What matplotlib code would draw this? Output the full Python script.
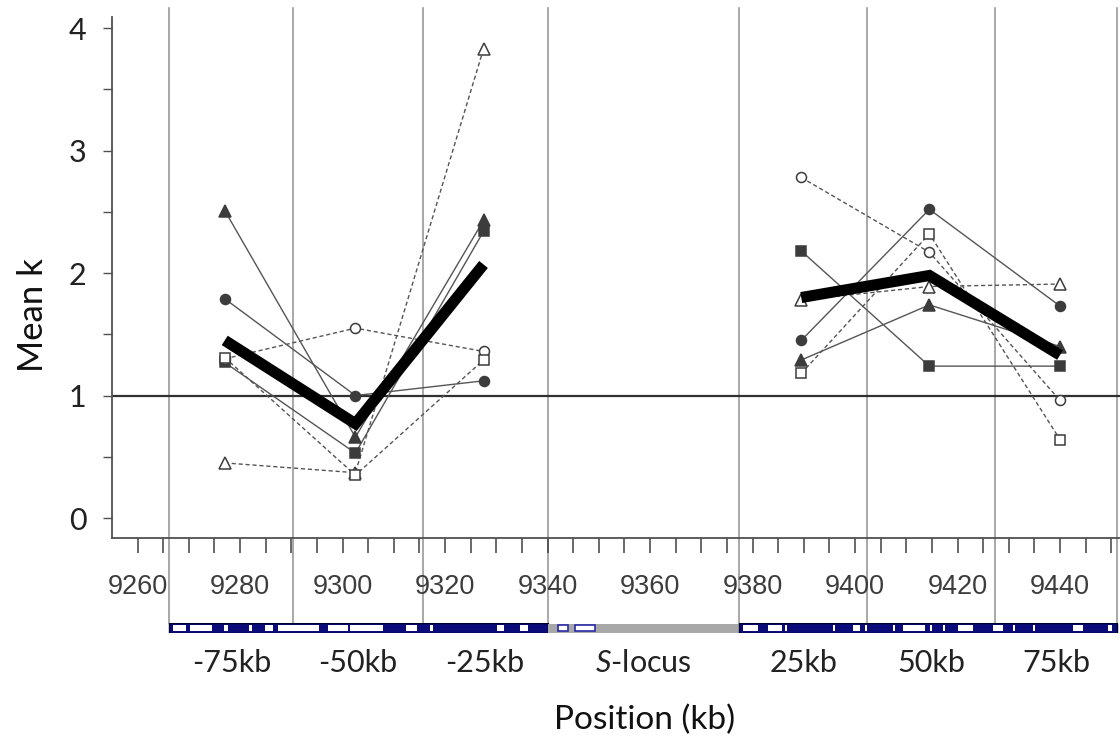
import matplotlib
matplotlib.use("Agg")
import matplotlib.pyplot as plt
from matplotlib.transforms import blended_transform_factory
from matplotlib.patches import Rectangle
from matplotlib.ticker import FixedLocator, FuncFormatter

plt.rcParams['font.family'] = ['Lato', 'DejaVu Sans']
plt.rcParams['mathtext.fontset'] = 'custom'
plt.rcParams['mathtext.rm'] = 'Lato'
plt.rcParams['mathtext.it'] = 'Lato:italic'

# window midpoints where values were measured (kb)
x_left = [9277, 9302.5, 9327.5]
x_right = [9389.5, 9414.5, 9440]

# mean k per individual, left flank / right flank
tri_filled_left = [2.51, 0.66, 2.43]
tri_filled_right = [1.29, 1.74, 1.40]
circ_filled_left = [1.79, 1.00, 1.12]
circ_filled_right = [1.45, 2.52, 1.73]
sq_filled_left = [1.27, 0.53, 2.34]
sq_filled_right = [2.18, 1.24, 1.24]
tri_open_left = [0.45, 0.37, 3.83]
tri_open_right = [1.78, 1.89, 1.91]
circ_open_left = [1.30, 1.55, 1.36]
circ_open_right = [2.78, 2.17, 0.96]
sq_open_left = [1.31, 0.35, 1.29]
sq_open_right = [1.18, 2.32, 0.64]

# overall mean (thick line)
mean_left = [1.45, 0.77, 2.07]
mean_right = [1.80, 1.98, 1.33]

# 25 kb window boundaries and labels
window_edges = [9266.2, 9290.4, 9315.6, 9340.0, 9377.4, 9402.4, 9427.3, 9451.1]
window_labels = ["-75kb", "-50kb", "-25kb", "$S$-locus", "25kb", "50kb", "75kb"]

# gene annotation track: white gaps in the blue bars (kb)
gaps_left = [(9267.0, 9269.4), (9270.3, 9274.6), (9276.8, 9277.7), (9281.8, 9282.4),
             (9284.8, 9286.5), (9287.3, 9295.3), (9297.1, 9301.0), (9301.5, 9307.8),
             (9312.3, 9314.6), (9317.1, 9317.7), (9330.2, 9331.4), (9334.7, 9336.2)]
gaps_slocus = [(9342.1, 9343.9), (9345.4, 9349.3)]
gaps_right = [(9378.2, 9381.1), (9383.0, 9385.8), (9386.4, 9386.8), (9395.7, 9396.1),
              (9399.6, 9401.0), (9402.0, 9402.4), (9407.4, 9407.8), (9409.4, 9413.7),
              (9414.6, 9415.0), (9417.2, 9417.6), (9420.1, 9423.0), (9426.9, 9428.9),
              (9430.8, 9431.2), (9434.7, 9435.1), (9442.5, 9444.5), (9449.4, 9450.1)]

W, H = 1120, 740
fig = plt.figure(figsize=(W / 100, H / 100), dpi=100)
ax = fig.add_axes([112 / W, 1 - 538 / H, 1 - 112 / W, 521 / H])
ax.set_xlim(9255, 9451.7)
ax.set_ylim(-0.163, 4.09)

for s in ['top', 'right']:
    ax.spines[s].set_visible(False)
for s in ['left', 'bottom']:
    ax.spines[s].set_color('#505050')
    ax.spines[s].set_linewidth(1.3)

# window boundary lines run from the top down to the gene track
tr = blended_transform_factory(ax.transData, ax.transAxes)
for e in window_edges:
    ax.plot([e, e], [(538 - 623) / 521, (538 - 8) / 521], transform=tr,
            color='#9a9a9a', lw=1.2, clip_on=False, zorder=1)

ax.axhline(1, color='#303030', lw=1.6, zorder=2)

series = [
    (tri_filled_left, tri_filled_right, '^', True, 8.5),
    (circ_filled_left, circ_filled_right, 'o', True, 7.2),
    (sq_filled_left, sq_filled_right, 's', True, 7.2),
    (tri_open_left, tri_open_right, '^', False, 8.5),
    (circ_open_left, circ_open_right, 'o', False, 7.2),
    (sq_open_left, sq_open_right, 's', False, 7.5),
]
for left, right, mk, filled, ms in series:
    ls = '-' if filled else (0, (3, 2))
    fc = '#3c3c3c' if filled else 'white'
    for xs, ys in ((x_left, left), (x_right, right)):
        ax.plot(xs, ys, color='#555555', lw=1.0, ls=ls, zorder=3)
        ax.plot(xs, ys, ls='none', marker=mk, ms=ms, mfc=fc, mec='#3c3c3c',
                mew=1.1, zorder=4)

for xs, ys in ((x_left, mean_left), (x_right, mean_right)):
    ax.plot(xs, ys, color='black', lw=8, solid_capstyle='butt',
            solid_joinstyle='miter', zorder=5)

# axes ticks
ax.set_yticks([0, 1, 2, 3, 4])
ax.set_yticks([0.5, 1.5, 2.5, 3.5], minor=True)
ax.tick_params(axis='y', which='both', length=6.5, width=1.0, color='#505050',
               labelsize=22, labelcolor='#222222', pad=12)
ax.xaxis.set_major_locator(FixedLocator(list(range(9260, 9455, 5))))
ax.xaxis.set_major_formatter(FuncFormatter(lambda v, p: f"{int(v)}" if int(v) % 20 == 0 else ""))
ax.tick_params(axis='x', length=11, width=1.1, color='#404040', pad=15)
for lab in ax.get_xticklabels():
    lab.set_fontfamily('Liberation Sans')
    lab.set_fontsize(19.5)
    lab.set_color('#3c3c3c')

# window labels under the track
for i, lab in enumerate(window_labels):
    xc = (window_edges[i] + window_edges[i + 1]) / 2
    ax.text(xc, (538 - 663) / 521, lab, transform=tr, ha='center', va='center',
            fontsize=22, color='#222222', clip_on=False)

# gene track
axg = fig.add_axes([112 / W, 1 - 633 / H, 1 - 112 / W, 10 / H])
axg.set_xlim(ax.get_xlim())
axg.set_ylim(0, 1)
axg.axis('off')
navy = '#0b0b7a'
axg.add_patch(Rectangle((window_edges[0], 0), window_edges[3] - window_edges[0], 1,
                        fc=navy, ec='#000030', lw=1))
axg.add_patch(Rectangle((window_edges[3], 0.05), window_edges[4] - window_edges[3], 0.9,
                        fc='#a8a8a8', ec='none'))
axg.add_patch(Rectangle((window_edges[4], 0), window_edges[7] - window_edges[4], 1,
                        fc=navy, ec='#000030', lw=1))
for a, b in gaps_left + gaps_right:
    axg.add_patch(Rectangle((a, 0.22), b - a, 0.56, fc='white', ec='none'))
for a, b in gaps_slocus:
    axg.add_patch(Rectangle((a, 0.2), b - a, 0.6, fc='white', ec='#2a2aa8', lw=1.2))

fig.text(33 / W, 1 - 315 / H, "Mean k", rotation=90, ha='center', va='center',
         fontsize=25, color='#111111')
fig.text(645 / W, 1 - 720 / H, "Position (kb)", ha='center', va='center',
         fontsize=24, color='#111111')

fig.savefig("out.png", dpi=100)
